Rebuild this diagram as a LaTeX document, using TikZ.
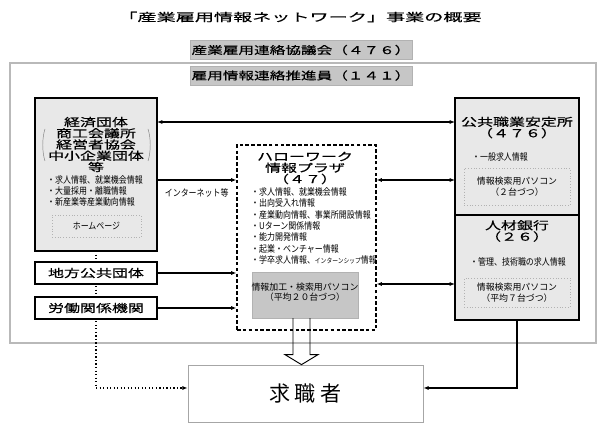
\documentclass[tikz,border=0pt]{standalone}
\usepackage{fontspec}
\setmainfont{Noto Sans CJK JP}
\newfontfamily\jpwide[FakeStretch=1.45,FakeBold=0.5]{Noto Sans CJK JP}
\newfontfamily\jptitle[FakeStretch=1.7,FakeBold=0.3]{Noto Sans CJK JP}
\newfontfamily\jpnarrow[FakeStretch=0.85]{Noto Sans CJK JP}
\usepackage{tikz}
\usetikzlibrary{positioning,calc,arrows.meta}
\tikzstyle{line} = [draw,line width=1.3pt]
\tikzstyle{conn} = [line,-{Latex[length=4.5pt,width=3.5pt]}]
\tikzstyle{both} = [line,{Latex[length=4.5pt,width=3.5pt]}-{Latex[length=4.5pt,width=3.5pt]}]
\tikzstyle{org} = [draw,line width=1.5pt,fill=gray!18,inner sep=0pt,outer sep=0pt]
\tikzstyle{band} = [fill=gray!45,draw=gray!60,minimum width=6.66cm,minimum height=0.57cm,inner sep=0pt,font=\jpwide\fontsize{9.2}{11}\selectfont]
\tikzstyle{head} = [font=\jpwide\fontsize{9.4}{9.6}\selectfont,align=center,inner sep=0pt]
\tikzstyle{items} = [font=\jpnarrow\fontsize{8}{9.7}\selectfont,align=left,inner sep=0pt]
\tikzstyle{small} = [font=\fontsize{7.6}{9}\selectfont,align=center,inner sep=0pt]
\tikzstyle{pcbox} = [draw=gray!60,dotted,minimum width=3.18cm,inner sep=0pt]

\begin{document}
\begin{tikzpicture}[x=0.03cm,y=-0.03cm]
  \useasboundingbox (0,0) rectangle (606,431);
  \node[font=\jptitle\fontsize{9.6}{12}\selectfont] (title) at (300,17) {「産業雇用情報ネットワーク」事業の概要};
  \draw[gray!55,line width=2.4pt] (10,63) rectangle (596,343);
  \node[band] (kyogikai) at (301,50) {産業雇用連絡協議会（４７６）};
  \node[band] (suishinin) [below=0.18cm of kyogikai] {雇用情報連絡推進員（１４１）};

  \node[org,minimum width=3.66cm,minimum height=4.59cm] (keizai) at (96,174.5) {};
  \node[head] (keizaiT) at (96,144.5) {経済団体\\商工会議所\\経営者協会\\中小企業団体\\等};
  \draw[gray] (45,129) .. controls (42,138) and (42,152) .. (45,161);
  \draw[gray] (148,129) .. controls (151,138) and (151,152) .. (148,161);
  \node[items,anchor=west] (keizaiL) at (47,191) {・求人情報、就業機会情報\\・大量採用・離職情報\\・新産業等産業動向情報};
  \node[pcbox,minimum width=2.67cm,minimum height=0.66cm,font=\jpnarrow\fontsize{8}{9.7}\selectfont] (hp) at (96.5,226) {ホームページ};

  \node[draw,densely dashed,line width=1pt,minimum width=4.17cm,minimum height=5.55cm,inner sep=0pt] (hw) at (306.5,237.5) {};
  \node[head] (hwT) at (305,168) {ハローワーク\\情報プラザ\\（４７）};
  \node[items,anchor=west] (hwL) at (251,226) {・求人情報、就業機会情報\\・出向受入れ情報\\・産業動向情報、事業所開設情報\\・Uターン関係情報\\・能力開発情報\\・起業・ベンチャー情報\\・学卒求人情報、{\fontsize{5.8}{6}\selectfont インターンシップ}情報};
  \node[fill=gray!45,draw=gray!60,minimum width=3.18cm,minimum height=1.38cm,inner sep=0pt] (pc) at (305,295) {};
  \node[small] (pcT) at (305,292) {情報加工・検索用パソコン\\（平均２０台づつ）};

  \node[org,minimum width=3.72cm,minimum height=3.51cm] (ankou) at (517,156.5) {};
  \node[org,minimum width=3.72cm,minimum height=3.15cm] (jinzai) [below=0pt of ankou] {};
  \node[head] (ankouT) at (517,127.5) {公共職業安定所\\（４７６）};
  \node[items] (ankouL) at (500,157) {・一般求人情報};
  \node[pcbox,minimum height=1.11cm,small] (ankouPC) at (517,186.5) {情報検索用パソコン\\（２台づつ）};
  \node[head] (jinzaiT) at (517,231) {人材銀行\\（２６）};
  \node[items] (jinzaiL) at (518,262) {・管理、技術職の求人情報};
  \node[pcbox,minimum height=0.87cm,small] (jinzaiPC) at (517,292.5) {情報検索用パソコン\\（平均７台づつ）};

  \node[draw=gray!70,line width=0.6pt,minimum width=7.05cm,minimum height=1.71cm,font=\fontsize{18}{20}\selectfont] (kyu) at (305.5,393.5) {求 職 者};

  \coordinate (lvA) at (0,122);
  \coordinate (lvB) at (0,180);
  \coordinate (lvC) at (0,284);
  \coordinate (lvD) at (0,388);
  \draw[dotted,line width=1pt,-{Latex[length=4.5pt,width=3.5pt]}] (keizai.south) |- (kyu.west |- lvD);

  \node[org,fill=white,minimum width=3.66cm,minimum height=0.66cm,font=\jpwide\fontsize{9.4}{9.6}\selectfont] (chiho) at (96,273) {地方公共団体};
  \node[org,fill=white,minimum width=3.66cm,minimum height=0.66cm,font=\jpwide\fontsize{9.4}{9.6}\selectfont] (rodo) [below=0.39cm of chiho] {労働関係機関};

  \draw[both] (keizai.east |- lvA) -- (ankou.west |- lvA);
  \draw[conn] (keizai.east |- lvB) -- node[below=7pt,inner sep=0pt,font=\jpnarrow\fontsize{8}{9}\selectfont] (net) {インターネット等} (hw.west |- lvB);
  \draw[both] (hw.east |- lvB) -- (ankou.west |- lvB);
  \draw[both] (hw.east |- lvC) -- (jinzai.west |- lvC);
  \draw[conn] (chiho.east) -- (hw.west |- chiho.east);
  \draw[conn] (rodo.east) -- (hw.west |- rodo.east);
  \draw[conn] (jinzai.south) |- (kyu.east |- lvD);
  \draw[line width=0.8pt] ($(pc.south)+(-12,0)$) -- ($(pc.south |- kyu.north)+(-12,-10)$) -- ($(pc.south |- kyu.north)+(-20,-10)$) -- ($(pc.south |- kyu.north)+(-3.5,0)$) -- ($(pc.south |- kyu.north)+(13,-10)$) -- ($(pc.south |- kyu.north)+(5,-10)$) -- ($(pc.south)+(5,0)$);
\end{tikzpicture}
\end{document}
